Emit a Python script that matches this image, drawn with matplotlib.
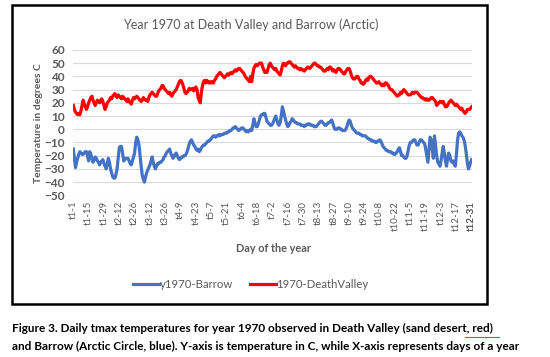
"""
Year 1970 daily tmax at Death Valley and Barrow
"""

import datetime
import matplotlib
matplotlib.use('Agg')
import matplotlib.pyplot as plt
from matplotlib.patches import Rectangle
from matplotlib.lines import Line2D
import numpy as np

plt.rcParams['font.family'] = ['Lato', 'DejaVu Sans']

# Daily max temperature (C), 1 Jan .. 31 Dec 1970
death_valley = [
    18, 15, 13, 12, 11, 12, 11, 14, 18, 22, 19, 17, 15, 17,
    20, 22, 24, 25, 22, 20, 18, 20, 22, 21, 20, 22, 23, 21,
    18, 15, 17, 20, 21, 22, 24, 23, 25, 26, 27, 25, 24, 26,
    25, 24, 23, 25, 24, 23, 22, 21, 23, 21, 20, 19, 22, 24,
    23, 24, 25, 24, 23, 22, 21, 22, 24, 23, 22, 22, 21, 24,
    26, 27, 28, 27, 26, 25, 25, 27, 29, 30, 31, 33, 33, 31,
    30, 29, 28, 27, 28, 26, 25, 27, 28, 29, 30, 32, 34, 36,
    37, 36, 34, 31, 28, 27, 28, 29, 31, 30, 30, 31, 29, 31,
    32, 30, 24, 22, 20, 28, 33, 36, 37, 35, 37, 36, 35, 36,
    35, 36, 35, 37, 38, 40, 41, 42, 43, 42, 41, 40, 39, 40,
    41, 42, 41, 42, 43, 42, 43, 44, 45, 44, 45, 46, 46, 45,
    44, 43, 42, 40, 39, 38, 37, 36, 40, 36, 42, 46, 48, 49,
    48, 49, 50, 50, 50, 47, 45, 43, 44, 43, 46, 49, 50, 48,
    47, 46, 45, 46, 44, 43, 42, 41, 44, 48, 50, 49, 48, 50,
    50, 51, 51, 50, 49, 48, 47, 48, 47, 46, 46, 45, 46, 45,
    45, 44, 45, 46, 47, 47, 46, 47, 48, 49, 50, 50, 49, 48,
    48, 47, 47, 46, 45, 44, 44, 45, 46, 45, 47, 47, 46, 44,
    45, 44, 43, 45, 46, 46, 45, 44, 43, 42, 42, 44, 45, 46,
    46, 44, 41, 39, 38, 38, 39, 40, 40, 38, 37, 35, 35, 34,
    35, 37, 38, 37, 39, 40, 40, 39, 38, 37, 36, 35, 35, 36,
    35, 34, 33, 34, 33, 35, 35, 34, 33, 31, 30, 30, 29, 28,
    27, 26, 25, 26, 26, 28, 27, 29, 30, 29, 28, 27, 26, 26,
    26, 27, 28, 27, 28, 28, 28, 27, 26, 25, 24, 24, 23, 23,
    22, 23, 22, 22, 23, 24, 24, 23, 22, 21, 18, 19, 20, 21,
    21, 20, 21, 19, 17, 17, 18, 20, 21, 22, 21, 20, 19, 18,
    19, 18, 17, 16, 15, 16, 14, 13, 12, 13, 15, 15, 15, 16,
    17,
]

barrow = [
    -15, -22, -29, -25, -22, -19, -17, -18, -19, -19, -18, -17, -17, -20,
    -24, -17, -19, -22, -25, -23, -21, -22, -24, -25, -27, -25, -24, -23,
    -26, -28, -30, -26, -22, -25, -30, -33, -36, -37, -37, -34, -30, -22,
    -14, -13, -13, -18, -24, -23, -22, -22, -22, -24, -26, -27, -24, -21,
    -18, -10, -6, -8, -12, -20, -28, -35, -38, -40, -36, -33, -31, -29,
    -27, -24, -21, -25, -28, -30, -28, -26, -26, -25, -25, -24, -23, -21,
    -20, -18, -17, -16, -15, -18, -20, -22, -21, -19, -18, -20, -22, -23,
    -22, -21, -21, -20, -20, -19, -17, -14, -11, -9, -8, -10, -12, -13,
    -15, -16, -15, -17, -16, -14, -13, -12, -12, -11, -10, -9, -9, -8,
    -7, -6, -5, -5, -6, -5, -5, -4, -5, -4, -4, -4, -3, -3,
    -3, -2, -2, -1, -1, 0, 1, 1, 2, 1, 0, -1, 0, 0,
    1, 1, 0, -1, -2, -1, -2, -1, 0, -1, 3, 8, 5, 2,
    2, 4, 7, 10, 11, 11, 12, 12, 9, 6, 5, 4, 3, 3,
    4, 6, 8, 10, 7, 4, 3, 5, 10, 17, 14, 10, 7, 4,
    2, 3, 5, 6, 8, 7, 6, 5, 5, 4, 4, 4, 3, 3,
    3, 2, 3, 3, 4, 4, 4, 3, 3, 3, 2, 2, 2, 3,
    4, 5, 6, 6, 5, 4, 3, 3, 4, 5, 5, 6, 7, 5,
    2, 0, 0, 0, 1, 1, 0, 0, -1, -1, -1, 0, 2, 5,
    7, 6, 3, 1, 0, -1, -2, -3, -3, -3, -4, -4, -5, -5,
    -5, -5, -6, -7, -7, -8, -8, -9, -9, -9, -10, -10, -9, -9,
    -8, -9, -11, -13, -14, -15, -16, -16, -17, -17, -17, -18, -18, -19,
    -19, -18, -17, -15, -14, -17, -20, -20, -21, -22, -22, -20, -16, -12,
    -10, -10, -9, -8, -8, -10, -12, -12, -10, -8, -8, -9, -10, -11,
    -15, -20, -25, -15, -6, -8, -15, -22, -5, -12, -20, -25, -26, -28,
    -24, -18, -13, -18, -24, -28, -22, -18, -20, -24, -25, -24, -26, -28,
    -20, -9, -3, -2, -3, -5, -6, -8, -12, -18, -25, -30, -28, -25,
    -23,
]

# Category labels "t<month>-<day>" as Excel shows them
start = datetime.date(1970, 1, 1)
day_labels = []
for k in range(len(barrow)):
    d = start + datetime.timedelta(days=k)
    day_labels.append('t%d-%d' % (d.month, d.day))

caption = ['Figure 3. Daily tmax temperatures for year 1970 observed in Death Valley (sand desert, red)',
           'and Barrow (Arctic Circle, blue). Y-axis is temperature in C, while X-axis represents days of a year']

grey = '#595959'
W, H = 550, 357

fig = plt.figure(figsize=(5.5, 3.57), dpi=100)
ax = fig.add_axes([0.1333, 0.453, 0.7243, 0.407])

x = np.arange(len(barrow))
ax.plot(x, barrow, color='#4472C4', lw=2.3, label='y1970-Barrow', solid_joinstyle='round')
ax.plot(x, death_valley, color='#FF0000', lw=2.3, label='1970-DeathValley', solid_joinstyle='round')

ax.set_xlim(0, len(x) - 1)
ax.set_ylim(-50, 60)
ax.set_yticks(np.arange(-50, 61, 10))
ax.yaxis.grid(True, color='#D9D9D9', lw=0.8)
ax.set_axisbelow(True)

# Tick every 14 days plus the last day
tick_pos = list(range(0, len(x), 14)) + [len(x) - 1]
ax.set_xticks(tick_pos)
ax.set_xticklabels([day_labels[i] for i in tick_pos], rotation=90, fontsize=7, color=grey)
for lbl in ax.get_yticklabels():
    lbl.set_fontweight('bold')
ax.tick_params(axis='y', labelsize=8.5, labelcolor=grey, length=0, pad=6)
ax.tick_params(axis='x', length=0, pad=4)
for s in ax.spines.values():
    s.set_visible(False)

ax.set_ylabel('Temperature in degrees C', fontsize=7.5, fontweight='bold', color=grey, labelpad=1)
fig.text(0.498, 1 - 248 / H, 'Day of the year', ha='center', va='center',
         fontsize=7.8, fontweight='bold', color=grey)
fig.text(0.456, 1 - 25 / H, 'Year 1970 at Death Valley and Barrow (Arctic)',
         ha='center', va='center', fontsize=9, color=grey)

leg = fig.legend(loc='center', bbox_to_anchor=(0.456, 1 - 284 / H), ncol=2,
                 frameon=False, fontsize=8.2, handlelength=2.3, handletextpad=0.05,
                 columnspacing=1.5)
for t in leg.get_texts():
    t.set_color(grey)

# Black frame round the chart, as pasted in the document
fig.patches.append(Rectangle((12 / W, 1 - 304 / H), 475 / W, 299 / H,
                             transform=fig.transFigure, fill=False,
                             edgecolor='black', lw=1.8))

cap1 = fig.text(12 / W, 1 - 328 / H, caption[0], ha='left', va='center',
                fontsize=8, fontweight='bold', color='black')
cap2 = fig.text(12 / W, 1 - 346 / H, caption[1], ha='left', va='center',
                fontsize=8, fontweight='bold', color='black')

# Fit the caption to the width it has in the document (first line ~481 px)
fig.canvas.draw()
w1 = cap1.get_window_extent().width
size = 8 * 481 / w1
cap1.set_fontsize(size)
cap2.set_fontsize(size)
fig.canvas.draw()
bb = cap1.get_window_extent()

# Word's spell-check squiggle under "red)"
fig.lines.append(Line2D([bb.x1 / W - 28 / W, bb.x1 / W + 6 / W], [1 - 337 / H] * 2,
                        transform=fig.transFigure, color='#4472C4', lw=0.8))

fig.savefig('out.png', dpi=100)
